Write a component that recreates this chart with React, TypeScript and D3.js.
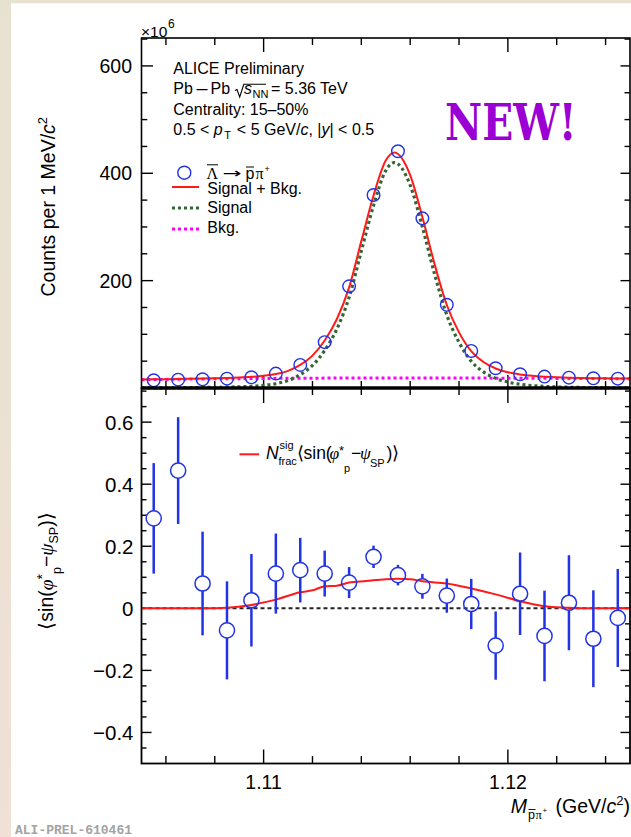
import React from 'react';
import * as d3 from 'd3';

// ---------- data ----------
const massBins = [1.1055, 1.1065, 1.1075, 1.1085, 1.1095, 1.1105, 1.1115, 1.1125, 1.1135, 1.1145,
  1.1155, 1.1165, 1.1175, 1.1185, 1.1195, 1.1205, 1.1215, 1.1225, 1.1235, 1.1245];
// counts per 1 MeV/c^2 in units of 10^6
const countsE6 = [14.3, 15.6, 16.2, 17.4, 19.9, 26.8, 43, 85.4, 189.4, 359.5,
  441, 316, 155, 69, 36.8, 25.5, 21.2, 19.3, 18.1, 17.4];

const fitMass = [1.105, 1.1055, 1.106, 1.1065, 1.107, 1.1075, 1.108, 1.1085, 1.109, 1.1095,
  1.11, 1.1105, 1.111, 1.1115, 1.112, 1.1125, 1.113, 1.1135, 1.114, 1.1145,
  1.115, 1.11535, 1.116, 1.1165, 1.117, 1.1175, 1.118, 1.1185, 1.119, 1.1195,
  1.12, 1.1205, 1.121, 1.1215, 1.122, 1.1225, 1.123, 1.1235, 1.124, 1.1245, 1.125];
const fitTotal = [15.7, 16.1, 16.4, 16.8, 17.3, 17.7, 18.2, 18.8, 19.6, 20.8,
  22.8, 25.9, 32.0, 43.2, 60.3, 88.4, 128.5, 187.5, 273.6, 358.6,
  423.7, 438.7, 396.7, 318.7, 230.6, 154.6, 103.6, 68.5, 48.4, 36.4,
  29.3, 25.2, 22.6, 21.0, 19.9, 19.2, 18.7, 18.3, 18.0, 17.7, 17.5];
const fitSignal = [0.2, 0.3, 0.4, 0.5, 0.7, 0.9, 1.2, 1.6, 2.2, 3.2,
  5, 8, 14, 25, 42, 70, 110, 169, 255, 340,
  405, 420, 378, 300, 212, 136, 85, 50, 30, 18,
  11, 7, 4.5, 3, 2, 1.4, 1, 0.7, 0.5, 0.3, 0.2];
const bkgMass = [1.105, 1.1075, 1.11, 1.1125, 1.115, 1.1175, 1.12, 1.1225, 1.125];
const bkgVal = [15.5, 16.8, 17.8, 18.4, 18.7, 18.6, 18.3, 17.8, 17.3];

const sinVal = [0.290, 0.444, 0.080, -0.071, 0.026, 0.112, 0.123, 0.112, 0.083, 0.166,
  0.107, 0.071, 0.041, 0.014, -0.120, 0.047, -0.089, 0.018, -0.098, -0.031];
const sinErr = [0.178, 0.172, 0.167, 0.158, 0.149, 0.129, 0.104, 0.074, 0.050, 0.036,
  0.033, 0.040, 0.055, 0.081, 0.110, 0.133, 0.146, 0.153, 0.156, 0.158];

const nfracMass = [1.105, 1.1075, 1.1085, 1.1095, 1.1105, 1.1115, 1.112, 1.1125, 1.113, 1.1135,
  1.1142, 1.115, 1.1155, 1.116, 1.1165, 1.1175, 1.1185, 1.1195, 1.1205, 1.1215, 1.1225, 1.123, 1.125];
const nfracVal = [0, 0, 0.002, 0.011, 0.028, 0.052, 0.058, 0.071, 0.073, 0.083,
  0.088, 0.094, 0.095, 0.094, 0.087, 0.080, 0.064, 0.045, 0.023, 0.007, 0.002, 0, 0];

const xMajor = [1.11, 1.12];
const xTickLabels = ['1.11', '1.12'];
const yTopMajor = [200, 400, 600];
const yTopTickLabels = ['200', '400', '600'];
const yBotMajor = [-0.4, -0.2, 0, 0.2, 0.4, 0.6];
const yBotTickLabels = ['\u22120.4', '\u22120.2', '0', '0.2', '0.4', '0.6'];

// ---------- layout ----------
const W = 631, H = 837;
const L = 141.5, R = 630, T1 = 38, B1 = 388, B2 = 763.5;
const SANS = '"Liberation Sans", Arial, Helvetica, sans-serif';
const SERIF = '"Liberation Serif", "Times New Roman", serif';
const BLUE = '#2233e6';
const RED = '#ff1a1a';
const GREEN = '#336633';
const MAGENTA = '#ff00ff';

export default function App() {
  const x = d3.scaleLinear().domain([1.105, 1.125]).range([L, R]);
  const yT = d3.scaleLinear().domain([0, 652]).range([B1, T1]);
  const yB = d3.scaleLinear().domain([-0.5, 0.71]).range([B2, B1]);

  const lineTop = d3.line<[number, number]>().x(d => x(d[0])).y(d => yT(d[1])).curve(d3.curveMonotoneX);
  const lineBot = d3.line<[number, number]>().x(d => x(d[0])).y(d => yB(d[1])).curve(d3.curveMonotoneX);

  const totalPath = lineTop(fitMass.map((m, i) => [m, fitTotal[i]]))!;
  const signalPath = lineTop(fitMass.map((m, i) => [m, fitSignal[i]]))!;
  const bkgPath = lineTop(bkgMass.map((m, i) => [m, bkgVal[i]]))!;
  const nfracPath = lineBot(nfracMass.map((m, i) => [m, nfracVal[i]]))!;

  const xTicks = x.ticks(10);
  const isXMajor = (t: number) => xMajor.some(v => Math.abs(v - t) < 1e-9);
  const yTopTicks = d3.range(50, 651, 50);
  const yBotTicks = d3.range(-9, 15).map(i => i * 0.05);
  const isBotMajor = (t: number) => yBotMajor.some(v => Math.abs(v - t) < 1e-9);

  const tickStroke = { stroke: '#000', strokeWidth: 1.4 };

  return (
    <svg width={W} height={H} viewBox={`0 0 ${W} ${H}`}
      style={{ position: 'absolute', left: 0, top: 0, display: 'block', background: '#fff' }}>
      <defs>
        <linearGradient id="strip" x1="0" y1="0" x2="0" y2="1">
          <stop offset="0" stopColor="#e7e2cf" />
          <stop offset="1" stopColor="#f0e0d6" />
        </linearGradient>
      </defs>
      <rect x={0} y={0} width={W} height={H} fill="#fff" />
      <rect x={0} y={0} width={W} height={3.3} fill="#e8e3d1" />
      <rect x={0} y={0} width={11} height={H} fill="url(#strip)" />

      {/* ===== upper panel ===== */}
      {xTicks.map((t, i) => {
        const mj = isXMajor(t);
        return (
          <g key={'xt' + i} {...tickStroke}>
            <line x1={x(t)} x2={x(t)} y1={T1} y2={T1 + (mj ? 14 : 7)} />
            <line x1={x(t)} x2={x(t)} y1={B1} y2={B1 - (mj ? 13 : 7)} />
            <line x1={x(t)} x2={x(t)} y1={B1} y2={B1 + (mj ? 15 : 7)} />
            <line x1={x(t)} x2={x(t)} y1={B2} y2={B2 - (mj ? 14 : 7.4)} />
          </g>
        );
      })}
      {yTopTicks.map((t, i) => {
        const mj = t % 200 === 0;
        return (
          <g key={'yt' + i} {...tickStroke}>
            <line x1={L} x2={L + (mj ? 11.5 : 5.8)} y1={yT(t)} y2={yT(t)} />
            <line x1={R} x2={R - (mj ? 9.5 : 5.5)} y1={yT(t)} y2={yT(t)} />
          </g>
        );
      })}
      {yTopMajor.map((t, i) => (
        <text key={'ytl' + i} x={132} y={yT(t)} dy="0.36em" textAnchor="end"
          fontFamily={SANS} fontSize={19.5} fill="#000">{yTopTickLabels[i]}</text>
      ))}
      <text x={141} y={36.5} fontFamily={SANS} fontSize={15.5} fill="#000">{'\u00d710'}</text>
      <text x={168} y={28} fontFamily={SANS} fontSize={12} fill="#000">6</text>

      {/* curves */}
      <path d={bkgPath} fill="none" stroke={MAGENTA} strokeWidth={3} strokeDasharray="3 3" />
      <path d={signalPath} fill="none" stroke={GREEN} strokeWidth={3.2} strokeDasharray="3 3" />
      <path d={totalPath} fill="none" stroke={RED} strokeWidth={2} />
      {massBins.map((m, i) => (
        <circle key={'pt' + i} cx={x(m)} cy={yT(countsE6[i])} r={6.3} fill="none" stroke={BLUE} strokeWidth={1.4} />
      ))}

      {/* header */}
      <g fontFamily={SANS} fontSize={16} fill="#000">
        <text x={173.3} y={74}>ALICE Preliminary</text>
        <text x={173.3} y={93.5}>Pb</text>
        <text x={196.5} y={93.5} textLength={11} lengthAdjust="spacingAndGlyphs">–</text>
        <text x={210.5} y={93.5}>Pb</text>
        <path d="M235,90.5 L237,89.5 L239.7,97 L243.8,84.3 L266,84.3" fill="none" stroke="#000" strokeWidth={1.1} />
        <text x={244} y={93.5} fontStyle="italic">s</text>
        <text x={252.6} y={97.5} fontSize={11}>NN</text>
        <text x={271} y={93.5}>= 5.36 TeV</text>
        <text x={173.3} y={115}>Centrality: 15–50%</text>
        <text x={173.3} y={135}>
          {'0.5 < '}<tspan fontStyle="italic">p</tspan>
          <tspan fontSize={11} dy={4} dx={1.5}>T</tspan>
          <tspan dy={-4} dx={1.5}>{' < 5 GeV/'}</tspan><tspan fontStyle="italic">c</tspan>
          {', |'}<tspan fontStyle="italic">y</tspan>{'| < 0.5'}
        </text>
      </g>

      {/* legend top */}
      <circle cx={184.3} cy={172.7} r={6.5} fill="none" stroke={BLUE} strokeWidth={1.4} />
      <g fill="#000">
        <text x={206.5} y={178.5} fontFamily={SERIF} fontSize={16}>{'\u039b'}</text>
        <line x1={207} x2={218} y1={164.8} y2={164.8} stroke="#000" strokeWidth={1} />
        <text x={222.5} y={178} fontFamily='"DejaVu Sans", sans-serif' fontSize={14}
          textLength={19} lengthAdjust="spacingAndGlyphs">{'\u2192'}</text>
        <text x={245.5} y={178.5} fontFamily={SANS} fontSize={16}>p</text>
        <line x1={246} x2={254} y1={167} y2={167} stroke="#000" strokeWidth={1} />
        <text x={255.5} y={178.5} fontFamily={SERIF} fontSize={16}>{'\u03c0'}</text>
        <text x={264.5} y={171.5} fontFamily={SANS} fontSize={9}>+</text>
      </g>
      <line x1={172} x2={199} y1={187} y2={187} stroke={RED} strokeWidth={2} />
      <line x1={172} x2={199} y1={208} y2={208} stroke={GREEN} strokeWidth={3.2} strokeDasharray="3 3" />
      <line x1={172} x2={199} y1={229} y2={229} stroke={MAGENTA} strokeWidth={3} strokeDasharray="3 3" />
      <g fontFamily={SANS} fontSize={16} fill="#000">
        <text x={207.3} y={193.5}>Signal + Bkg.</text>
        <text x={207.3} y={212.5}>Signal</text>
        <text x={207.3} y={232.5}>Bkg.</text>
      </g>

      <text x={445} y={140} fontFamily='"DejaVu Serif", "Liberation Serif", serif' fontWeight="bold"
        fontSize={50} fill="#9a00d4" textLength={131.7} lengthAdjust="spacingAndGlyphs">NEW!</text>

      {/* y title top */}
      <text transform={`translate(54.5, ${206.7}) rotate(-90)`} textAnchor="middle"
        fontFamily={SANS} fontSize={19.5} fill="#000">
        {'Counts per 1 MeV/'}<tspan fontStyle="italic">c</tspan>
        <tspan fontSize={13} dy={-8}>2</tspan>
      </text>

      {/* ===== lower panel ===== */}
      {yBotTicks.map((t, i) => {
        const mj = isBotMajor(t);
        return (
          <g key={'yb' + i} {...tickStroke}>
            <line x1={L} x2={L + (mj ? 10 : 5)} y1={yB(t)} y2={yB(t)} />
            <line x1={R} x2={R - (mj ? 9.5 : 5)} y1={yB(t)} y2={yB(t)} />
          </g>
        );
      })}
      {yBotMajor.map((t, i) => (
        <text key={'ybl' + i} x={133.5} y={yB(t)} dy="0.36em" textAnchor="end"
          fontFamily={SANS} fontSize={20.5} fill="#000">{yBotTickLabels[i]}</text>
      ))}
      {xMajor.map((t, i) => (
        <text key={'xl' + i} x={x(t)} y={789} textAnchor="middle"
          fontFamily={SANS} fontSize={19.5} fill="#000">{xTickLabels[i]}</text>
      ))}

      <line x1={L} x2={R} y1={yB(0)} y2={yB(0)} stroke="#222" strokeWidth={2} strokeDasharray="4 3" />
      <path d={nfracPath} fill="none" stroke={RED} strokeWidth={2} />
      {massBins.map((m, i) => {
        const cx = x(m), cy = yB(sinVal[i]);
        const top = yB(sinVal[i] + sinErr[i]);
        const bot = yB(sinVal[i] - sinErr[i]);
        const r = 7.6;
        return (
          <g key={'lp' + i}>
            {top < cy - r && <line x1={cx} x2={cx} y1={top} y2={cy - r} stroke={BLUE} strokeWidth={2.5} />}
            {bot > cy + r && <line x1={cx} x2={cx} y1={cy + r} y2={bot} stroke={BLUE} strokeWidth={2.5} />}
            <circle cx={cx} cy={cy} r={r} fill="none" stroke={BLUE} strokeWidth={1.5} />
          </g>
        );
      })}

      {/* legend lower */}
      <line x1={239.5} x2={259} y1={454.3} y2={454.3} stroke={RED} strokeWidth={2} />
      <g fontFamily={SANS} fill="#000">
        <text x={266} y={459} fontSize={17.5} fontStyle="italic">N</text>
        <text x={279.5} y={449} fontSize={11}>sig</text>
        <text x={278.5} y={464.5} fontSize={11}>frac</text>
        <text x={296.5} y={459} fontSize={17.5}>{'\u27e8sin('}</text>
        <text x={329.5} y={459} fontSize={17.5} fontFamily={SERIF} fontStyle="italic">{'\u03c6'}</text>
        <text x={339} y={455} fontSize={13}>*</text>
        <text x={344} y={472} fontSize={11}>p</text>
        <text x={351} y={459} fontSize={17.5}>{'\u2212'}</text>
        <text x={360} y={459} fontSize={17.5} fontFamily={SERIF} fontStyle="italic">{'\u03c8'}</text>
        <text x={370} y={467} fontSize={11}>SP</text>
        <text x={386.5} y={459} fontSize={17.5}>{')\u27e9'}</text>
      </g>

      {/* y title bottom */}
      <text transform={`translate(53, 571) rotate(-90)`} textAnchor="middle"
        fontFamily={SANS} fontSize={19.5} fill="#000">
        {'\u27e8sin('}
        <tspan fontFamily={SERIF} fontStyle="italic">{'\u03c6'}</tspan>
        <tspan fontSize={14} dy={-6}>*</tspan>
        <tspan fontSize={12.5} dy={14}>p</tspan>
        <tspan dy={-8}>{'\u2212'}</tspan>
        <tspan fontFamily={SERIF} fontStyle="italic">{'\u03c8'}</tspan>
        <tspan fontSize={12.5} dy={5}>SP</tspan>
        <tspan dy={-5}>{')\u27e9'}</tspan>
      </text>

      {/* x title */}
      <g fontFamily={SANS} fill="#000">
        <text x={510.8} y={813} fontSize={19.5} fontStyle="italic">M</text>
        <text x={528} y={818.5} fontSize={12.5}>p</text>
        <line x1={528.5} x2={535.5} y1={809.5} y2={809.5} stroke="#000" strokeWidth={0.9} />
        <text x={535.5} y={818.5} fontSize={12.5} fontFamily={SERIF}>{'\u03c0'}</text>
        <text x={542.5} y={813} fontSize={8}>+</text>
        <text x={630} y={813} fontSize={19.5} textAnchor="end">
          {'(GeV/'}<tspan fontStyle="italic">c</tspan><tspan fontSize={13} dy={-8}>2</tspan><tspan dy={8}>)</tspan>
        </text>
      </g>

      {/* frames */}
      <rect x={L} y={T1} width={R - L} height={B1 - T1} fill="none" stroke="#000" strokeWidth={1.6} />
      <rect x={L} y={B1} width={R - L} height={B2 - B1} fill="none" stroke="#000" strokeWidth={1.8} />
      <line x1={L} x2={R} y1={B1} y2={B1} stroke="#000" strokeWidth={3.6} />

      <text x={15} y={834} fontFamily='"Liberation Mono", "DejaVu Sans Mono", monospace' fontWeight="bold"
        fontSize={13} fill="#a3a3a3">ALI-PREL-610461</text>
    </svg>
  );
}
